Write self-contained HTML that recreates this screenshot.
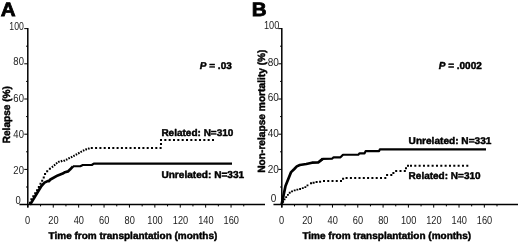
<!DOCTYPE html>
<html><head><meta charset="utf-8"><title>Figure</title>
<style>
html,body{margin:0;padding:0;background:#fff;}
body{width:520px;height:245px;overflow:hidden;}
svg{display:block;font-family:"Liberation Sans",Arial,sans-serif;fill:#000;text-rendering:geometricPrecision;}
.b{font-weight:bold;font-size:10px;stroke:#000;stroke-width:.45px;stroke-linejoin:round;}
.t{font-size:11px;fill:#1a1a1a;}
.L{font-weight:bold;font-size:20px;stroke:#000;stroke-width:.8px;stroke-linejoin:miter;}
.ax{stroke:#000;stroke-width:1.5;fill:none;}
.tk{stroke:#000;stroke-width:1;fill:none;}
.s{stroke:#000;stroke-width:2.7;fill:none;stroke-linejoin:round;stroke-linecap:butt;}
.d{stroke:#000;stroke-width:2;fill:none;stroke-linecap:square;}
.d2{stroke:#000;stroke-width:1.6;fill:none;stroke-linecap:butt;}
.d3{stroke:#000;stroke-width:1.85;fill:none;stroke-linecap:square;}
.s2{stroke:#000;stroke-width:2.15;fill:none;stroke-linejoin:round;stroke-linecap:butt;}
</style></head><body>
<svg width="520" height="245" viewBox="0 0 520 245">
<rect width="520" height="245" fill="#fff"/>
<text class="L" transform="translate(0.8,16.0) scale(1.03,.97)">A</text>
<path class="ax" d="M27.80 28.1V207.4"/>
<path class="ax" d="M19.45 204.55H265"/>
<path class="tk" d="M26.05 187.00H27.85M24.25 169.40H27.85M26.05 151.80H27.85M24.25 134.20H27.85M26.05 116.60H27.85M24.25 99.00H27.85M26.05 81.40H27.85M24.25 63.80H27.85M26.05 46.20H27.85M24.25 28.60H27.85M27.85 204.60V207.60M40.55 204.60V206.40M53.25 204.60V207.60M65.95 204.60V206.40M78.65 204.60V207.60M91.35 204.60V206.40M104.05 204.60V207.60M116.75 204.60V206.40M129.45 204.60V207.60M142.15 204.60V206.40M154.85 204.60V207.60M167.55 204.60V206.40M180.25 204.60V207.60M192.95 204.60V206.40M205.65 204.60V207.60M218.35 204.60V206.40M231.05 204.60V207.60M243.75 204.60V206.40"/>
<text class="t" transform="translate(23.90,29.60) scale(0.7912,1.06)" text-anchor="end">100</text>
<text class="t" transform="translate(23.90,65.40) scale(0.86,1.06)" text-anchor="end">80</text>
<text class="t" transform="translate(23.90,101.50) scale(0.86,1.06)" text-anchor="end">60</text>
<text class="t" transform="translate(23.90,137.80) scale(0.86,1.06)" text-anchor="end">40</text>
<text class="t" transform="translate(23.90,173.60) scale(0.86,1.06)" text-anchor="end">20</text>
<text class="t" transform="translate(20.70,203.50) scale(0.86,1.06)" text-anchor="end">0</text>
<text class="t" transform="translate(27.55,224.10) scale(0.84,1.06)" text-anchor="middle">0</text>
<text class="t" transform="translate(53.45,224.10) scale(0.84,1.06)" text-anchor="middle">20</text>
<text class="t" transform="translate(78.85,224.10) scale(0.84,1.06)" text-anchor="middle">40</text>
<text class="t" transform="translate(104.25,224.10) scale(0.84,1.06)" text-anchor="middle">60</text>
<text class="t" transform="translate(129.65,224.10) scale(0.84,1.06)" text-anchor="middle">80</text>
<text class="t" transform="translate(155.05,224.10) scale(0.84,1.06)" text-anchor="middle">100</text>
<text class="t" transform="translate(180.45,224.10) scale(0.84,1.06)" text-anchor="middle">120</text>
<text class="t" transform="translate(205.85,224.10) scale(0.84,1.06)" text-anchor="middle">140</text>
<text class="t" transform="translate(231.25,224.10) scale(0.84,1.06)" text-anchor="middle">160</text>
<text class="b" transform="translate(9.6,114.7) rotate(-90) scale(1.01,1.04)" text-anchor="middle">Relapse (%)</text>
<text class="b" transform="translate(48.6,239.3) scale(1.0,1.0)" text-anchor="start">Time from transplantation (months)</text>
<path class="s" d="M29.9 204.6L30.9 203.4L41.4 186.0L44.5 182.6L47.6 181.1L48.8 181.2L50.4 179.5L57.8 175.4L62.7 173.6L65.0 172.2L68.0 171.4L70.0 169.6L73.0 166.3"/>
<path class="s2" d="M73.0 166.3L80.3 166.2L82.8 165.0L91.8 165.0L93.8 163.6L232.0 163.6"/>
<path class="d" d="M29.95 202.67h.02M31.38 199.37h.02M33.28 196.31h.02M35.18 193.26h.02M37.07 190.20h.02M38.85 187.07h.02M40.51 183.87h.02M42.18 180.69h.02M43.74 177.45h.02M45.04 174.12h.02M47.18 171.22h.02M49.88 168.85h.02"/>
<path class="d2" d="M52.02 165.88l0.90 1.90M54.14 164.12l0.90 1.90M56.20 162.31l0.90 1.90M58.42 160.80l0.90 1.90M61.11 160.19l0.90 1.90M63.82 159.76l0.90 1.90M66.24 158.59l0.90 1.90M68.65 157.28l0.90 1.90M71.15 156.13l0.90 1.90M73.56 154.82l0.90 1.90M75.98 153.51l0.90 1.90M78.37 152.16l0.90 1.90M80.76 150.80l0.90 1.90M83.20 149.53l0.90 1.90M85.71 148.40l0.90 1.90M88.35 147.63l0.90 1.90"/>
<path class="d" d="M91.79 148.00h.02M96.09 148.00h.02M100.39 148.00h.02M104.69 148.00h.02M108.99 148.00h.02M113.29 148.00h.02M117.59 148.00h.02M121.89 148.00h.02M126.19 148.00h.02M130.49 148.00h.02M134.79 148.00h.02M139.09 148.00h.02M143.39 148.00h.02M147.69 148.00h.02M151.99 148.00h.02M156.29 148.00h.02M160.59 148.00h.02M160.99 144.10h.02M160.99 139.90h.02M165.32 139.90h.02M169.66 139.90h.02M173.99 139.90h.02M178.32 139.90h.02M182.66 139.90h.02M186.99 139.90h.02M191.32 139.90h.02M195.66 139.90h.02M199.99 139.90h.02M204.32 139.90h.02M208.66 139.90h.02M212.99 139.90h.02"/>
<text class="b" transform="translate(161.4,136.4) scale(1.0,0.98)" text-anchor="start">Related: N=310</text>
<text class="b" transform="translate(161.4,177.9) scale(1.01,1.0)" text-anchor="start">Unrelated: N=331</text>
<text class="b" transform="translate(199.8,69.1) scale(1.0,0.98)" text-anchor="start"><tspan font-style="italic">P</tspan> = .03</text>
<text class="L" transform="translate(251.8,16.0) scale(1.03,.97)">B</text>
<path class="ax" d="M281.80 28.1V207.4"/>
<path class="ax" d="M273.45 204.55H518"/>
<path class="tk" d="M280.05 187.00H281.85M278.25 169.40H281.85M280.05 151.80H281.85M278.25 134.20H281.85M280.05 116.60H281.85M278.25 99.00H281.85M280.05 81.40H281.85M278.25 63.80H281.85M280.05 46.20H281.85M278.25 28.60H281.85M281.85 204.60V207.60M294.50 204.60V206.40M307.16 204.60V207.60M319.82 204.60V206.40M332.47 204.60V207.60M345.12 204.60V206.40M357.78 204.60V207.60M370.44 204.60V206.40M383.09 204.60V207.60M395.75 204.60V206.40M408.40 204.60V207.60M421.06 204.60V206.40M433.71 204.60V207.60M446.37 204.60V206.40M459.02 204.60V207.60M471.68 204.60V206.40M484.33 204.60V207.60M496.99 204.60V206.40"/>
<text class="t" transform="translate(279.30,29.10) scale(0.8372,1.06)" text-anchor="end">100</text>
<text class="t" transform="translate(278.90,65.60) scale(0.91,1.06)" text-anchor="end">80</text>
<text class="t" transform="translate(278.90,100.90) scale(0.91,1.06)" text-anchor="end">60</text>
<text class="t" transform="translate(278.90,137.40) scale(0.91,1.06)" text-anchor="end">40</text>
<text class="t" transform="translate(278.90,172.80) scale(0.91,1.06)" text-anchor="end">20</text>
<text class="t" transform="translate(276.20,201.90) scale(0.91,1.06)" text-anchor="end">0</text>
<text class="t" transform="translate(281.55,224.10) scale(0.84,1.06)" text-anchor="middle">0</text>
<text class="t" transform="translate(307.36,224.10) scale(0.84,1.06)" text-anchor="middle">20</text>
<text class="t" transform="translate(332.67,224.10) scale(0.84,1.06)" text-anchor="middle">40</text>
<text class="t" transform="translate(357.98,224.10) scale(0.84,1.06)" text-anchor="middle">60</text>
<text class="t" transform="translate(383.29,224.10) scale(0.84,1.06)" text-anchor="middle">80</text>
<text class="t" transform="translate(408.60,224.10) scale(0.84,1.06)" text-anchor="middle">100</text>
<text class="t" transform="translate(433.91,224.10) scale(0.84,1.06)" text-anchor="middle">120</text>
<text class="t" transform="translate(459.22,224.10) scale(0.84,1.06)" text-anchor="middle">140</text>
<text class="t" transform="translate(484.53,224.10) scale(0.84,1.06)" text-anchor="middle">160</text>
<text class="b" transform="translate(264.6,111.15) rotate(-90) scale(1.0175,1.04)" text-anchor="middle">Non-relapse mortality (%)</text>
<text class="b" transform="translate(302.4,239.3) scale(1.0,1.0)" text-anchor="start">Time from transplantation (months)</text>
<path class="s" d="M281.6 204.6L285.5 186.0L291.1 172.1L294.3 169.0L296.8 166.4L299.8 165.0L306.3 164.0L312.0 162.7L318.2 162.5L322.7 158.9"/>
<path class="s2" d="M318.2 162.5L322.7 158.9L332.3 158.6L333.6 157.3L340.5 157.3L343.0 154.7L358.3 154.7L359.6 153.3L364.6 153.3L365.6 151.1L379.1 151.1L379.9 149.3L486.0 149.3"/>
<path class="d3" d="M283.14 201.78h.02M284.52 199.36h.02M286.16 197.09h.02M287.89 194.89h.02M289.69 192.75h.02M292.02 191.31h.02M294.68 190.42h.02M297.35 189.58h.02M300.08 188.97h.02M302.77 188.19h.02M305.33 187.06h.02M307.50 185.43h.02"/>
<path class="d" d="M310.99 183.30h.02M313.59 182.80h.02M316.59 182.10h.02M320.09 181.70h.02M323.99 181.10h.02M328.24 181.10h.02M332.49 181.10h.02M336.74 181.10h.02M340.99 181.10h.02M343.09 178.70h.02M346.59 178.10h.02M350.89 178.10h.02M355.19 178.10h.02M359.49 178.10h.02M363.79 178.10h.02M368.09 178.10h.02M372.39 178.10h.02M376.69 178.10h.02M380.99 178.10h.02M385.29 178.10h.02M387.09 175.10h.02M391.29 175.10h.02M393.39 172.90h.02M396.19 170.90h.02M400.49 170.90h.02M404.79 170.90h.02M405.99 168.20h.02M407.99 165.80h.02M410.99 165.80h.02M415.29 165.80h.02M419.62 165.80h.02M423.96 165.80h.02M428.29 165.80h.02M432.62 165.80h.02M436.96 165.80h.02M441.29 165.80h.02M445.62 165.80h.02M449.96 165.80h.02M454.29 165.80h.02M458.62 165.80h.02M462.96 165.80h.02M467.29 165.80h.02"/>
<text class="b" transform="translate(408.6,144.3) scale(1.01,0.98)" text-anchor="start">Unrelated: N=331</text>
<text class="b" transform="translate(408.6,179.1) scale(1.0,0.98)" text-anchor="start">Related: N=310</text>
<text class="b" transform="translate(438.7,69.0) scale(1.0,1.01)" text-anchor="start"><tspan font-style="italic">P</tspan> = .0002</text>
</svg>
</body></html>
